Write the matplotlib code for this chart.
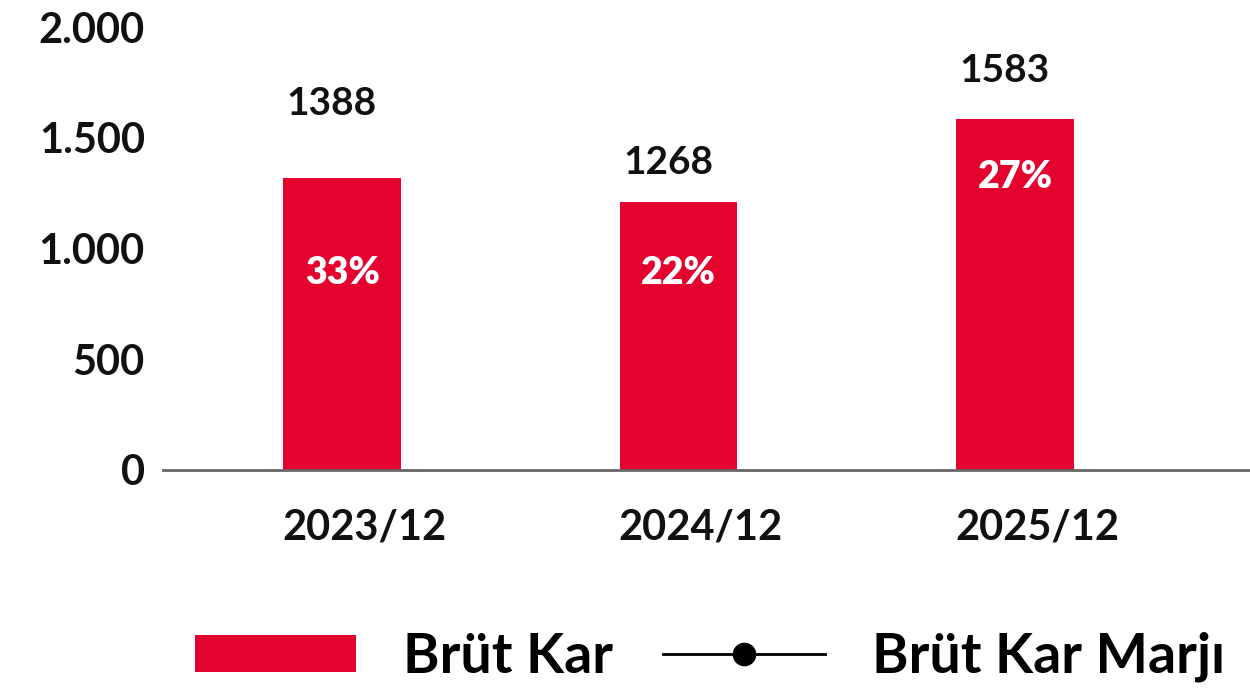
"""
Brüt Kar bar chart with margin labels
"""
import matplotlib
matplotlib.use('Agg')
import matplotlib.pyplot as plt
import matplotlib.transforms as mtransforms
from matplotlib.patches import Patch
from matplotlib.lines import Line2D
import numpy as np

plt.rcParams['font.family'] = ['Lato', 'DejaVu Sans']

# data
periods = ['2023/12', '2024/12', '2025/12']
brut_kar = [1317, 1209, 1583]            # bar heights as drawn
brut_kar_labels = ['1388', '1268', '1583']
label_y = [1655, 1390, 1805]             # where the value labels sit
marj = [33, 22, 27]
marj_y = [890, 890, 1322]
yticks = [0, 500, 1000, 1500, 2000]
ytick_labels = ['0', '500', '1.000', '1.500', '2.000']

red = '#E4032E'

fig = plt.figure(figsize=(12.5, 6.93), dpi=100)
ax = fig.add_axes([0.1304, 0.3218, 0.8696, 0.6392])

pos = np.arange(len(periods))
ax.bar(pos, brut_kar, 0.35, color=red, zorder=2)

for x, txt, y in zip(pos, brut_kar_labels, label_y):
    ax.text(x - 0.03, y, txt, ha='center', va='center', fontsize=28, fontweight='bold', color='#111111')
for x, m, y in zip(pos, marj, marj_y):
    ax.text(x, y, f'{m}%', ha='center', va='center', fontsize=27, fontweight='heavy', color='white')

ax.set_xlim(-0.532, 2.698)
ax.set_ylim(0, 2000)
ax.set_xticks(pos, periods)
ax.set_yticks(yticks, ytick_labels)
ax.tick_params(axis='both', length=0, labelsize=30, colors='#111111')
ax.tick_params(axis='y', pad=13)
ax.tick_params(axis='x', pad=28)
shift = mtransforms.ScaledTranslation(0.22, 0, fig.dpi_scale_trans)
for lab in ax.get_xticklabels():
    lab.set_fontweight('bold')
    lab.set_transform(lab.get_transform() + shift)
for lab in ax.get_yticklabels():
    lab.set_fontweight('bold')

for s in ['top', 'right', 'left']:
    ax.spines[s].set_visible(False)
ax.spines['bottom'].set_color('#666666')
ax.spines['bottom'].set_linewidth(2)

handles = [Patch(facecolor=red, edgecolor='none'),
           Line2D([], [], color='black', lw=2, marker='o', markersize=16)]
leg = fig.legend(handles, ['Brüt Kar', 'Brüt Kar Marjı'], loc='center', bbox_to_anchor=(0.568, 0.052),
                 ncol=2, frameon=False, fontsize=40, handlelength=2.9, handleheight=0.65,
                 handletextpad=0.85, columnspacing=0.9)
for t in leg.get_texts():
    t.set_fontweight('bold')

fig.savefig('out.png', dpi=100)
